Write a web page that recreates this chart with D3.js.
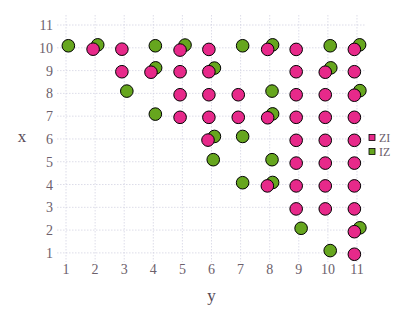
<!DOCTYPE html>
<html>
<head>
<meta charset="utf-8">
<script src="https://cdn.jsdelivr.net/npm/d3@7"></script>
<style>
  body { margin: 0; background: #fff; }
  text { font-family: 'Liberation Serif', 'DejaVu Serif', serif; }
</style>
</head>
<body>
<svg id="main"></svg>
<script>
//--------data----------
// positions are read off the picture (points are jittered around integer grid)
const izH = [1.08, 2.09, 4.07, 5.09, 7.07, 8.10, 10.08, 11.09,
  4.08, 6.10, 10.10,
  3.09, 8.08, 11.10,
  4.07, 8.10,
  6.10, 7.07,
  6.06, 8.08,
  7.07, 8.10,
  9.08, 11.10,
  10.08];
const izV = [10.09, 10.13, 10.09, 10.12, 10.09, 10.13, 10.09, 10.13,
  9.12, 9.11, 9.12,
  8.10, 8.10, 8.12,
  7.09, 7.10,
  6.11, 6.11,
  5.09, 5.09,
  4.08, 4.09,
  2.08, 2.10,
  1.10];

const ziH = [1.93, 2.92, 4.92, 5.91, 7.93, 8.91, 10.91,
  2.92, 3.92, 4.92, 5.91, 8.91, 9.91, 10.91,
  4.92, 5.91, 6.92, 8.91, 9.91, 10.91,
  4.92, 5.91, 6.92, 7.93, 8.91, 9.91, 10.91,
  5.88, 8.91, 9.91, 10.91,
  8.91, 9.91, 10.91,
  7.92, 8.91, 9.91, 10.91,
  8.91, 9.91, 10.91,
  10.91,
  10.91];
const ziV = [9.94, 9.94, 9.90, 9.93, 9.93, 9.93, 9.93,
  8.95, 8.93, 8.95, 8.95, 8.95, 8.93, 8.95,
  7.94, 7.94, 7.94, 7.94, 7.94, 7.92,
  6.95, 6.95, 6.95, 6.93, 6.95, 6.95, 6.95,
  5.95, 5.94, 5.94, 5.94,
  4.94, 4.94, 4.94,
  3.94, 3.94, 3.94, 3.94,
  2.93, 2.93, 2.93,
  1.93,
  0.94];

const ticks = [1,2,3,4,5,6,7,8,9,10,11];
const legendKeys = ['ZI', 'IZ'];
const colors = {ZI: '#e7298a', IZ: '#66a61e'};

//--------code----------
const width = 407, height = 326;
const svg = d3.select('#main').attr('width', width).attr('height', height);

const sx = d3.scaleLinear().domain([0.69, 11.31]).range([57, 366]);
const sy = d3.scaleLinear().domain([0.6, 11.44]).range([262, 15]);

// grid
const grid = svg.append('g');
grid.selectAll('.gv').data(ticks).join('line')
  .attr('x1', d=>sx(d)).attr('x2', d=>sx(d))
  .attr('y1', sy.range()[1]).attr('y2', sy.range()[0])
  .attr('stroke', '#cfcfe0').attr('stroke-width', 0.7)
  .attr('stroke-dasharray', '1.5,1.5');
grid.selectAll('.gh').data(ticks).join('line')
  .attr('y1', d=>sy(d)).attr('y2', d=>sy(d))
  .attr('x1', sx.range()[0]).attr('x2', sx.range()[1])
  .attr('stroke', '#cfcfe0').attr('stroke-width', 0.7)
  .attr('stroke-dasharray', '1.5,1.5');

// tick labels
svg.selectAll('.tx').data(ticks).join('text')
  .attr('x', d=>sx(d)).attr('y', 274)
  .attr('text-anchor', 'middle')
  .style('font-size', '14px').style('fill', '#6c606b')
  .text(d=>d);
svg.selectAll('.ty').data(ticks).join('text')
  .attr('x', 53).attr('y', d=>sy(d)+5)
  .attr('text-anchor', 'end')
  .style('font-size', '14px').style('fill', '#6c606b')
  .text(d=>d);

// axis titles
svg.append('text').attr('x', sx(6)).attr('y', 301)
  .attr('text-anchor', 'middle')
  .style('font-size', '17px').style('fill', '#564a55')
  .text('y');
svg.append('text').attr('x', 22).attr('y', 142)
  .attr('text-anchor', 'middle')
  .style('font-size', '17px').style('fill', '#564a55')
  .text('x');

// points: IZ first, ZI on top
const iz = izH.map((h,i)=>({h, v: izV[i]}));
const zi = ziH.map((h,i)=>({h, v: ziV[i]}));
svg.append('g').selectAll('circle').data(iz).join('circle')
  .attr('cx', d=>sx(d.h)).attr('cy', d=>sy(d.v)).attr('r', 6.3)
  .attr('fill', colors.IZ).attr('stroke', '#000').attr('stroke-width', 1);
svg.append('g').selectAll('circle').data(zi).join('circle')
  .attr('cx', d=>sx(d.h)).attr('cy', d=>sy(d.v)).attr('r', 6.3)
  .attr('fill', colors.ZI).attr('stroke', '#000').attr('stroke-width', 1);

// legend
const lg = svg.append('g').attr('transform', 'translate(369,137.5)');
lg.selectAll('rect').data(legendKeys).join('rect')
  .attr('x', 0).attr('y', (d,i)=>i*14-3)
  .attr('width', 6).attr('height', 6)
  .attr('fill', d=>colors[d]).attr('stroke', '#000').attr('stroke-width', 0.8);
lg.selectAll('text').data(legendKeys).join('text')
  .attr('x', 10).attr('y', (d,i)=>i*14+4)
  .style('font-size', '12px').style('fill', '#6c606b')
  .text(d=>d);
</script>
</body>
</html>
